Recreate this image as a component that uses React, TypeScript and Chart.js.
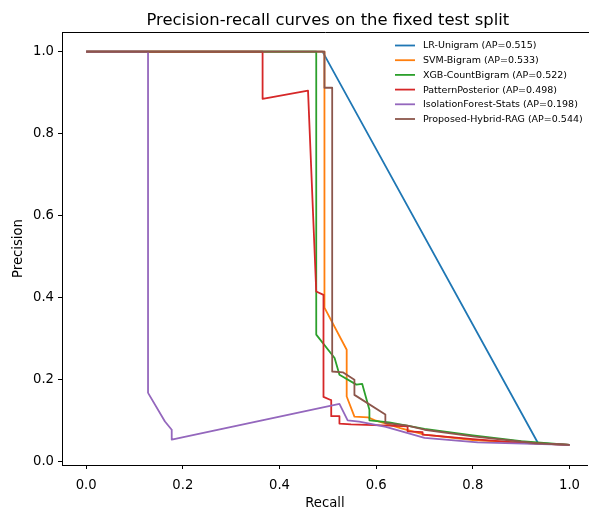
import { useEffect, useRef } from "react";
import { Chart, registerables } from "chart.js";

Chart.register(...registerables);

const chartTitle = "Precision-recall curves on the fixed test split";
const xAxisLabel = "Recall";
const yAxisLabel = "Precision";

const seriesLabels = [
  "LR-Unigram (AP=0.515)",
  "SVM-Bigram (AP=0.533)",
  "XGB-CountBigram (AP=0.522)",
  "PatternPosterior (AP=0.498)",
  "IsolationForest-Stats (AP=0.198)",
  "Proposed-Hybrid-RAG (AP=0.544)",
];
const seriesColors = ["#1f77b4", "#ff7f0e", "#2ca02c", "#d62728", "#9467bd", "#8c564b"];

const lrRecall = [0, 0.489, 0.935, 1.0];
const lrPrecision = [1, 1, 0.045, 0.041];

const svmRecall = [0, 0.493, 0.493, 0.539, 0.539, 0.555, 0.583, 0.6, 0.65, 0.7, 0.8, 0.9, 1.0];
const svmPrecision = [1, 1, 0.376, 0.273, 0.159, 0.11, 0.108, 0.1, 0.082, 0.066, 0.053, 0.046, 0.041];

const xgbRecall = [0, 0.476, 0.476, 0.514, 0.524, 0.559, 0.571, 0.586, 0.586, 0.627, 0.7, 0.8, 0.9, 1.0];
const xgbPrecision = [1, 1, 0.31, 0.253, 0.212, 0.188, 0.19, 0.127, 0.101, 0.096, 0.08, 0.064, 0.05, 0.041];

const patternRecall = [0, 0.365, 0.365, 0.459, 0.476, 0.491, 0.491, 0.507, 0.507, 0.524, 0.524, 0.548, 0.627, 0.665, 0.665, 0.696, 0.696, 0.8, 0.9, 1.0];
const patternPrecision = [1, 1, 0.885, 0.905, 0.415, 0.407, 0.158, 0.15, 0.111, 0.111, 0.093, 0.091, 0.088, 0.086, 0.074, 0.072, 0.066, 0.055, 0.046, 0.041];

const isoRecall = [0, 0.128, 0.128, 0.163, 0.177, 0.177, 0.524, 0.541, 0.565, 0.62, 0.7, 0.81, 1.0];
const isoPrecision = [1, 1, 0.168, 0.098, 0.078, 0.054, 0.141, 0.101, 0.098, 0.085, 0.058, 0.047, 0.041];

const hybridRecall = [0, 0.493, 0.493, 0.509, 0.509, 0.531, 0.555, 0.555, 0.619, 0.619, 0.665, 0.7, 0.8, 0.93, 1.0];
const hybridPrecision = [1, 1, 0.912, 0.912, 0.22, 0.218, 0.2, 0.163, 0.115, 0.094, 0.088, 0.078, 0.062, 0.045, 0.041];

const xTicks = [0, 0.2, 0.4, 0.6, 0.8, 1.0];
const yTicks = [0, 0.2, 0.4, 0.6, 0.8, 1.0];

const allRecall = [lrRecall, svmRecall, xgbRecall, patternRecall, isoRecall, hybridRecall];
const allPrecision = [lrPrecision, svmPrecision, xgbPrecision, patternPrecision, isoPrecision, hybridPrecision];

const FONT = '"DejaVu Sans", sans-serif';
const TICK_SIZE = 13.2;
const CANVAS_W = 589;
const CANVAS_H = 511;

export default function App() {
  const ref = useRef<HTMLCanvasElement>(null);

  useEffect(() => {
    const canvas = ref.current;
    if (!canvas) return;

    const datasets = seriesLabels.map((label, i) => ({
      label,
      data: allRecall[i].map((r, k) => ({ x: r, y: allPrecision[i][k] })),
      borderColor: seriesColors[i],
      backgroundColor: seriesColors[i],
      borderWidth: 1.8,
      pointRadius: 0,
      tension: 0,
      fill: false,
      borderJoinStyle: "round" as const,
      order: seriesLabels.length - 1 - i,
    }));

    const framePlugin = {
      id: "frameAndLegend",
      afterDraw(chart: any) {
        const { ctx, chartArea } = chart;
        ctx.save();
        ctx.strokeStyle = "#000";
        ctx.lineWidth = 1;
        const t = Math.round(chartArea.top) + 0.5;
        ctx.beginPath();
        ctx.moveTo(Math.round(chartArea.left), t);
        ctx.lineTo(chart.width, t);
        ctx.stroke();
        const xs = chart.scales.x;
        const axesCenter = (xs.getPixelForValue(-0.05) + xs.getPixelForValue(1.05)) / 2;
        ctx.fillStyle = "#000";
        ctx.font = `16.4px ${FONT}`;
        ctx.textAlign = "center";
        ctx.textBaseline = "middle";
        ctx.fillText(chartTitle, axesCenter, 21);
        const lx = 395;
        const ly = 45.5;
        const rowH = 14.7;
        ctx.font = `9.5px ${FONT}`;
        ctx.textAlign = "left";
        chart.data.datasets.forEach((ds: any, i: number) => {
          const y = ly + i * rowH;
          ctx.strokeStyle = ds.borderColor;
          ctx.lineWidth = 1.8;
          ctx.beginPath();
          ctx.moveTo(lx, y);
          ctx.lineTo(lx + 20, y);
          ctx.stroke();
          ctx.fillStyle = "#000";
          ctx.fillText(ds.label, lx + 28, y + 0.5);
        });
        ctx.restore();
      },
    };

    const chart = new Chart(canvas, {
      type: "line",
      data: { datasets },
      options: {
        responsive: false,
        animation: false,
        events: [],
        layout: { padding: { left: 0, right: 0, top: 32, bottom: 0 } },
        plugins: {
          legend: { display: false },
          tooltip: { enabled: false },
          title: { display: false },
        },
        scales: {
          x: {
            type: "linear",
            min: -0.05,
            max: 1.0377,
            afterBuildTicks: (scale: any) => {
              scale.ticks = xTicks.map((v) => ({ value: v }));
            },
            afterFit: (scale: any) => {
              scale.height = 46;
            },
            ticks: {
              callback: (v: any) => Number(v).toFixed(1),
              font: { family: FONT, size: TICK_SIZE },
              color: "#000",
              padding: 9,
              maxRotation: 0,
              autoSkip: false,
            },
            grid: {
              display: true,
              drawOnChartArea: false,
              drawTicks: true,
              tickLength: 4,
              tickColor: "#000",
              tickWidth: 1,
            },
            border: { display: true, color: "#000", width: 1 },
            title: {
              display: true,
              text: xAxisLabel,
              font: { family: FONT, size: TICK_SIZE },
              color: "#000",
              padding: { top: 0, bottom: 0 },
            },
          },
          y: {
            type: "linear",
            min: -0.008,
            max: 1.048,
            afterBuildTicks: (scale: any) => {
              scale.ticks = yTicks.map((v) => ({ value: v }));
            },
            afterFit: (scale: any) => {
              scale.width = 62;
            },
            ticks: {
              callback: (v: any) => Number(v).toFixed(1),
              font: { family: FONT, size: TICK_SIZE },
              color: "#000",
              padding: 4,
              autoSkip: false,
            },
            grid: {
              display: true,
              drawOnChartArea: false,
              drawTicks: true,
              tickLength: 4,
              tickColor: "#000",
              tickWidth: 1,
            },
            border: { display: true, color: "#000", width: 1 },
            title: {
              display: true,
              text: yAxisLabel,
              font: { family: FONT, size: TICK_SIZE },
              color: "#000",
              padding: { top: 11, bottom: 0 },
            },
          },
        },
      },
      plugins: [framePlugin],
    });

    return () => chart.destroy();
  }, []);

  return (
    <div
      style={{
        position: "fixed",
        left: 0,
        top: 0,
        width: CANVAS_W,
        height: CANVAS_H,
        overflow: "hidden",
        background: "#fff",
      }}
    >
      <canvas ref={ref} width={CANVAS_W} height={CANVAS_H} style={{ display: "block" }} />
    </div>
  );
}
